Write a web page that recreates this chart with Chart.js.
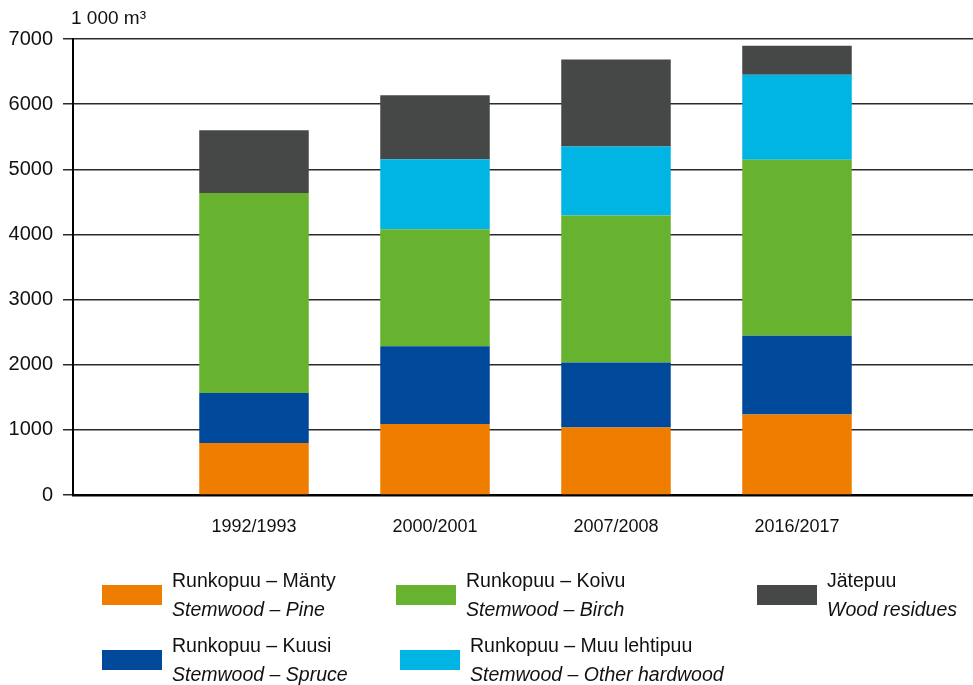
<!DOCTYPE html>
<html>
<head>
<meta charset="utf-8">
<script src="https://cdn.jsdelivr.net/npm/chart.js@4/dist/chart.umd.min.js"></script>
<style>
  html, body { margin: 0; padding: 0; background: #fff; overflow: hidden; }
  #wrap { position: relative; width: 978px; height: 685px; }
  #wrap canvas { position: absolute; left: 0; top: 0; }
  .unit {
    position: absolute; left: 71px; top: 7px;
    font: 19px "Liberation Sans", Arial, sans-serif;
    color: #111;
  }
  .leg { position: absolute; font: 19.5px "Liberation Sans", Arial, sans-serif; color: #111; line-height: 28.7px; white-space: nowrap; }
  .leg i { display: block; }
  .sw { position: absolute; width: 60px; height: 19.5px; }
</style>
</head>
<body>
<div id="wrap">
  <canvas id="chart" width="978" height="685"></canvas>
  <div class="unit">1 000 m³</div>
</div>
<script>
const periods = ['1992/1993', '2000/2001', '2007/2008', '2016/2017']

// 1 000 m³ per period
const pine = [800, 1090, 1035, 1235]
const spruce = [765, 1195, 1000, 1210]
const birch = [3070, 1795, 2255, 2700]
const otherHardwood = [0, 1075, 1060, 1305]
const residues = [965, 980, 1335, 445]

const namesFi = ['Runkopuu – Mänty', 'Runkopuu – Kuusi', 'Runkopuu – Koivu', 'Runkopuu – Muu lehtipuu', 'Jätepuu']
const namesEn = ['Stemwood – Pine', 'Stemwood – Spruce', 'Stemwood – Birch', 'Stemwood – Other hardwood', 'Wood residues']
const colors = ['#EF7D00', '#00489A', '#67B22F', '#00B4E4', '#464847']
const series = [pine, spruce, birch, otherHardwood, residues]

const yTicks = [0, 1000, 2000, 3000, 4000, 5000, 6000, 7000]

// legend boxes: swatch left, text left, top of text block
const legendSlots = [
  { sw: 102, tx: 172, top: 566 },
  { sw: 102, tx: 172, top: 631 },
  { sw: 396, tx: 466, top: 566 },
  { sw: 400, tx: 470, top: 631 },
  { sw: 757, tx: 827, top: 566 }
]

const tickFont = { family: '"Liberation Sans", Arial, sans-serif' }

const datasets = series.map((vals, s) => ({
  label: namesFi[s],
  data: vals.map((v, i) => ({ x: i, y: v })),
  backgroundColor: colors[s],
  borderWidth: 0,
  categoryPercentage: 0.605,
  barPercentage: 1
}))

new Chart(document.getElementById('chart'), {
  type: 'bar',
  data: { datasets: datasets },
  options: {
    responsive: false,
    animation: false,
    layout: { padding: { top: 39, right: 0, left: 0, bottom: 0 } },
    plugins: { legend: { display: false }, tooltip: { enabled: false } },
    scales: {
      x: {
        type: 'linear',
        offset: false,
        stacked: true,
        min: -1,
        max: 4,
        afterFit: axis => { axis.height = 190 },
        afterBuildTicks: axis => { axis.ticks = periods.map((p, i) => ({ value: i })) },
        grid: { display: false, drawTicks: false },
        border: { display: true, color: '#000', width: 2.5 },
        ticks: {
          padding: 21,
          color: '#111',
          font: { ...tickFont, size: 18 },
          maxRotation: 0,
          callback: v => periods[v] ?? ''
        }
      },
      y: {
        stacked: true,
        min: 0,
        max: 7000,
        afterFit: axis => { axis.width = 73 },
        afterBuildTicks: axis => { axis.ticks = yTicks.map(v => ({ value: v })) },
        grid: { color: '#2a2a2a', lineWidth: 1.5, tickLength: 10 },
        border: { display: true, color: '#000', width: 2 },
        ticks: {
          padding: 10,
          color: '#111',
          font: { ...tickFont, size: 20 },
          callback: v => String(v)
        }
      }
    }
  }
})

// legend
const wrap = document.getElementById('wrap')
legendSlots.forEach((slot, s) => {
  const sw = document.createElement('div')
  sw.className = 'sw'
  sw.style.left = slot.sw + 'px'
  sw.style.top = (slot.top + 19) + 'px'
  sw.style.background = colors[s]
  wrap.appendChild(sw)

  const txt = document.createElement('div')
  txt.className = 'leg'
  txt.style.left = slot.tx + 'px'
  txt.style.top = slot.top + 'px'
  txt.innerHTML = namesFi[s] + '<i>' + namesEn[s] + '</i>'
  wrap.appendChild(txt)
})
</script>
</body>
</html>
